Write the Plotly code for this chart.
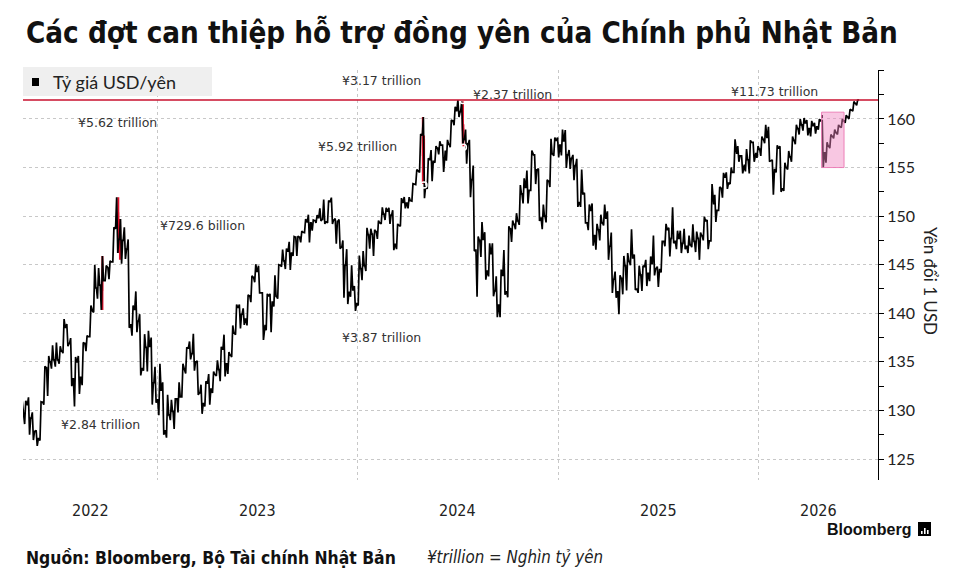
import plotly.graph_objects as go
import pandas as pd

# ---------------- DATA (weekly USD/JPY) ----------------
first_open = 128.6
high = [
    # 2022 (from late April)
    131.25, 131.0, 131.35, 129.8, 127.95, 130.9, 134.55, 135.6, 136.7, 137.0, 136.6, 139.4,
    138.9, 137.45, 135.5, 135.6, 137.0, 137.7, 140.8, 144.99, 144.65, 145.9, 144.9, 145.4,
    148.85, 151.95, 149.7, 148.85, 147.6, 140.8, 142.25, 139.9, 137.85, 138.2, 137.5, 134.5,
    # 2023
    134.8, 132.9, 131.6, 131.1, 131.2, 132.9, 134.8, 136.5, 137.1, 137.9, 135.1, 132.65,
    133.0, 133.75, 134.0, 135.15, 136.55, 137.8, 136.0, 138.75, 140.9, 140.9, 140.5, 141.9,
    143.85, 145.05, 144.9, 142.1, 142.0, 142.0, 143.9, 145.0, 146.55, 146.65, 147.35, 147.9,
    147.95, 148.45, 149.7, 150.15, 149.6, 150.1, 150.8, 151.7, 151.6, 151.9, 149.75, 149.65,
    147.5, 146.6, 144.95, 142.8,
    # 2024
    145.95, 146.4, 148.8, 148.7, 148.6, 149.55, 150.9, 150.85, 150.85, 150.6, 149.2, 151.85,
    151.97, 151.95, 153.35, 154.8, 158.45, 160.2, 155.95, 156.8, 157.2, 157.7, 157.3, 157.85,
    159.9, 161.25, 161.95, 161.8, 158.9, 157.85, 155.2, 147.9, 149.4, 148.35, 147.2, 147.2,
    143.8, 144.5, 146.5, 148.95, 149.55, 150.3, 153.2, 153.9, 154.7, 156.75, 155.9, 154.9,
    151.2, 153.75, 157.95, 158.1,
    # 2025
    158.1, 158.9, 158.85, 156.8, 156.3, 155.9, 154.8, 152.4, 151.2, 151.3, 149.2, 150.15,
    151.2, 150.5, 148.3, 144.3, 143.9, 145.9, 146.2, 148.65, 146.05, 144.9, 144.9, 145.5,
    145.85, 148.0, 144.8, 147.2, 149.2, 148.8, 150.9, 148.5, 148.5, 148.7, 148.0, 149.15,
    148.4, 148.3, 149.95, 149.6, 153.3, 152.2, 153.0, 154.45, 154.5, 155.0, 157.9, 157.2,
    156.2, 156.9, 157.8, 157.2,
    # 2026
    157.2, 158.2, 159.4, 159.2, 155.8, 157.3, 157.2, 155.5, 156.7, 158.2, 159.4, 160.0,
    160.1, 159.9, 159.8, 159.6, 160.0, 160.4, 157.6, 158.4, 158.9, 159.4, 160.0, 160.4,
    161.0, 161.8, 162.0,
]
low = [
    # 2022
    127.0, 128.6, 127.5, 126.95, 126.35, 126.9, 130.6, 131.5, 134.3, 134.5, 134.8, 135.9,
    136.6, 132.5, 130.4, 131.7, 132.6, 136.1, 137.6, 140.1, 141.5, 140.35, 143.5, 143.5,
    145.3, 146.2, 145.1, 145.6, 138.5, 137.7, 138.05, 133.6, 134.1, 134.0, 130.6, 130.8,
    # 2023
    129.5, 127.5, 127.2, 129.0, 128.1, 129.8, 131.5, 133.8, 135.25, 134.1, 131.6, 129.65,
    130.4, 130.6, 131.8, 133.55, 133.0, 133.5, 133.75, 135.5, 137.8, 138.45, 138.8, 138.75,
    141.15, 143.2, 142.1, 137.25, 138.25, 138.05, 140.7, 141.5, 144.8, 144.55, 144.45, 145.9,
    145.9, 147.3, 148.3, 147.3, 148.5, 149.3, 149.5, 149.2, 149.3, 149.2, 147.15, 146.65,
    141.6, 140.95, 141.7, 140.25,
    # 2024
    140.8, 143.4, 144.35, 146.65, 145.9, 147.65, 149.2, 149.6, 149.2, 146.5, 146.6, 148.95,
    150.8, 150.8, 151.55, 153.25, 154.5, 151.85, 152.8, 153.6, 155.5, 156.35, 154.55, 155.7,
    157.1, 159.35, 160.2, 157.45, 155.4, 151.95, 146.4, 141.7, 145.8, 143.45, 143.8, 141.75,
    139.6, 139.6, 141.9, 141.65, 147.35, 148.65, 149.1, 151.3, 151.3, 152.7, 153.3, 149.5,
    148.65, 149.35, 153.0, 156.2,
    # 2025
    156.05, 156.25, 154.95, 154.85, 153.7, 150.95, 150.95, 149.3, 148.55, 146.95, 146.55, 147.5,
    149.05, 145.5, 142.1, 141.6, 139.9, 141.95, 142.35, 144.95, 142.4, 142.1, 142.3, 142.8,
    143.3, 143.9, 142.7, 144.2, 146.9, 145.85, 147.2, 146.6, 146.2, 146.6, 146.2, 146.8,
    146.3, 145.5, 147.5, 146.6, 149.0, 149.4, 150.9, 151.9, 152.8, 153.3, 154.6, 155.6,
    154.4, 154.6, 154.4, 155.6,
    # 2026
    156.0, 156.2, 157.5, 155.6, 152.2, 154.5, 152.5, 152.6, 154.8, 155.6, 157.4, 158.4,
    158.8, 158.3, 158.2, 158.5, 158.9, 155.0, 155.5, 157.0, 158.0, 158.4, 159.1, 159.6,
    160.0, 160.8, 161.4,
]
close = [
    # 2022
    129.9, 130.55, 129.2, 127.85, 127.1, 130.85, 134.4, 135.0, 135.2, 135.2, 136.1, 138.55,
    136.9, 133.25, 135.0, 133.4, 136.9, 137.6, 140.2, 142.6, 142.9, 143.35, 144.7, 145.3,
    148.7, 147.6, 147.5, 146.6, 138.8, 140.4, 139.2, 134.3, 136.5, 136.6, 132.85, 131.1,
    # 2023
    132.1, 127.9, 129.55, 129.9, 131.2, 131.4, 134.15, 136.4, 135.85, 135.0, 131.8, 130.7,
    132.8, 132.2, 133.7, 134.2, 136.3, 134.8, 135.7, 137.95, 140.6, 139.9, 139.4, 141.8,
    143.7, 144.3, 142.1, 138.8, 141.8, 141.15, 141.75, 144.95, 145.4, 146.4, 146.2, 147.85,
    147.85, 148.35, 149.35, 149.3, 149.55, 149.85, 149.65, 149.4, 151.5, 149.6, 149.45, 146.8,
    144.95, 142.15, 142.4, 141.0,
    # 2024
    144.6, 144.9, 148.1, 148.15, 148.4, 149.3, 150.2, 150.5, 150.1, 147.1, 149.05, 151.4,
    151.35, 151.6, 153.3, 154.65, 158.3, 153.05, 155.8, 155.65, 157.0, 157.3, 156.75, 157.4,
    159.8, 160.85, 160.75, 157.9, 157.45, 153.75, 146.5, 147.5, 147.6, 144.35, 146.15, 142.3,
    140.85, 143.9, 142.2, 148.7, 149.15, 149.5, 152.3, 152.95, 152.65, 156.3, 154.75, 149.8,
    150.0, 153.6, 156.4, 157.8,
    # 2025
    157.3, 157.75, 156.3, 155.95, 155.2, 151.4, 152.3, 149.3, 150.6, 148.0, 148.6, 149.3,
    149.8, 146.9, 143.5, 142.2, 143.6, 144.9, 145.35, 145.7, 142.5, 143.95, 144.8, 144.1,
    145.1, 144.6, 144.5, 147.4, 148.6, 147.7, 147.4, 147.7, 147.2, 146.9, 147.05, 147.4,
    147.7, 148.0, 149.5, 147.45, 151.2, 150.6, 152.85, 154.0, 153.4, 154.5, 156.4, 156.2,
    155.3, 155.8, 157.6, 156.5,
    # 2026
    156.9, 157.9, 158.1, 155.7, 154.8, 157.0, 152.8, 155.0, 156.1, 157.8, 159.0, 159.4,
    159.6, 159.0, 159.3, 159.2, 159.8, 156.5, 157.2, 158.2, 158.6, 159.2, 159.8, 160.2,
    160.9, 161.6, 161.9,
]
week_start = "2022-04-27"

# intervention days (red bars)
int_dates = ["2022-09-22", "2022-10-21", "2022-10-24", "2024-04-29", "2024-05-01", "2024-07-11", "2024-07-12"]
int_open = [144.4, 150.3, 147.6, 158.2, 157.8, 161.7, 159.0]
int_high = [145.9, 151.95, 149.7, 160.2, 158.3, 161.8, 159.45]
int_low = [140.35, 146.2, 145.5, 153.3, 154.2, 157.4, 157.2]
int_close = [142.4, 147.6, 148.9, 156.3, 155.4, 158.9, 157.9]

mark_dates = ["2024-07-11", "2024-07-12", "2024-05-01", "2026-04-29"]
mark_vals = [161.9, 157.1, 153.2, 160.3]

labels = ["¥5.62 trillion", "¥729.6 billion", "¥2.84 trillion", "¥3.17 trillion",
          "¥2.37 trillion", "¥5.92 trillion", "¥3.87 trillion", "¥11.73 trillion"]
label_x = ["2022-10-19", "2023-01-01", "2022-09-18", "2024-02-13",
           "2024-10-10", "2024-01-01", "2024-02-13", "2026-01-31"]
label_y = [159.6, 149.0, 128.6, 164.0, 162.5, 157.2, 137.5, 162.8]
label_anchor = ["center", "left", "center", "center", "center", "center", "center", "center"]

record_level = 161.95
box_x = ["2026-04-27", "2026-06-07"]
box_y = [155.0, 160.7]

years = ["2022", "2023", "2024", "2025", "2026"]
y_ticks = [125, 130, 135, 140, 145, 150, 155, 160, 165]
x_range = ["2022-04-30", "2026-08-08"]
y_range = [122.84, 165.04]

COND = "DejaVu Sans Condensed, Roboto Condensed, Liberation Sans Narrow, Arial Narrow, Roboto, sans-serif"

# ---------------- BUILD ----------------
assert len(high) == len(low) == len(close)
dates = pd.date_range(week_start, periods=len(close), freq="7D")
opens = [first_open] + close[:-1]
hi = [max(h, o, c) for h, o, c in zip(high, opens, close)]
lo = [min(l, o, c) for l, o, c in zip(low, opens, close)]

# path through each week's open -> extreme -> extreme -> close
path_x, path_y = [], []
for d, o, h, l, c in zip(dates, opens, hi, lo, close):
    first, second = (l, h) if c >= o else (h, l)
    for off, v in zip((-3, -1, 1, 3), (o, first, second, c)):
        path_x.append(d + pd.Timedelta(days=off))
        path_y.append(v)

W, H = 976, 577
L, R, T, B = 23, 98, 70, 97
pw, ph = W - L - R, H - T - B

def px(x):
    return (x - L) / pw

def py(y):
    return (H - B - y) / ph

fig = go.Figure()
fig.add_trace(go.Scatter(x=path_x, y=path_y, mode="lines",
                         line=dict(color="black", width=1.7), showlegend=False, hoverinfo="skip"))
fig.add_trace(go.Candlestick(
    x=pd.to_datetime(int_dates), open=int_open, high=int_high, low=int_low, close=int_close,
    increasing=dict(line=dict(color="#e3102b", width=2), fillcolor="#e3102b"),
    decreasing=dict(line=dict(color="#e3102b", width=2), fillcolor="#e3102b"),
    whiskerwidth=0, showlegend=False, hoverinfo="skip"))
fig.add_trace(go.Scatter(
    x=pd.to_datetime(mark_dates), y=mark_vals, mode="markers",
    marker=dict(symbol="circle-open", size=6, color="white", line=dict(width=1.5, color="white")),
    showlegend=False, hoverinfo="skip"))

shapes = []
shapes.append(dict(type="line", xref="paper", x0=0, x1=1, yref="y", y0=record_level, y1=record_level,
                   line=dict(color="#c8102e", width=1.5), layer="above"))
shapes.append(dict(type="rect", xref="x", x0=box_x[0], x1=box_x[1], yref="y", y0=box_y[0], y1=box_y[1],
                   fillcolor="rgba(240,130,190,0.45)", line=dict(color="rgba(235,120,180,0.9)", width=1),
                   layer="above"))
# legend box
shapes.append(dict(type="rect", xref="paper", yref="paper", x0=px(23), x1=px(212), y0=py(96), y1=py(67),
                   fillcolor="#efefef", line=dict(width=0), layer="above"))
shapes.append(dict(type="rect", xref="paper", yref="paper", x0=px(32), x1=px(39), y0=py(86), y1=py(78),
                   fillcolor="black", line=dict(width=0), layer="above"))
# bloomberg icon
shapes.append(dict(type="rect", xref="paper", yref="paper", x0=px(918), x1=px(931), y0=py(536), y1=py(522),
                   fillcolor="black", line=dict(width=0), layer="above"))
for bx0, by in [(921, 531), (924, 528), (927, 530)]:
    shapes.append(dict(type="rect", xref="paper", yref="paper", x0=px(bx0), x1=px(bx0 + 1.6),
                       y0=py(534), y1=py(by), fillcolor="white", line=dict(width=0), layer="above"))

annotations = []
for t, xx, yy, an in zip(labels, label_x, label_y, label_anchor):
    annotations.append(dict(text=t, x=xx, y=yy, xref="x", yref="y", showarrow=False,
                            xanchor=an, yanchor="middle",
                            font=dict(family="DejaVu Sans", size=12.5, color="#333333")))

# year labels centred on the visible part of each year
xr0, xr1 = pd.Timestamp(x_range[0]), pd.Timestamp(x_range[1])
for yr in years:
    a = max(pd.Timestamp(f"{yr}-01-01"), xr0)
    b = min(pd.Timestamp(f"{int(yr)+1}-01-01"), xr1)
    mid = a + (b - a) / 2
    annotations.append(dict(text=yr, x=mid, y=py(510), xref="x", yref="paper", showarrow=False,
                            xanchor="center", yanchor="middle",
                            font=dict(family=COND, size=16, color="#222222")))

annotations += [
    dict(text="<b>Các đợt can thiệp hỗ trợ đồng yên của Chính phủ Nhật Bản</b>", x=px(24), y=py(33),
         xref="paper", yref="paper", showarrow=False, xanchor="left", yanchor="middle",
         font=dict(family=COND, size=29.3, color="#111111")),
    dict(text="Tỷ giá USD/yên", x=px(51), y=py(82), xref="paper", yref="paper", showarrow=False,
         xanchor="left", yanchor="middle", font=dict(family="Lato", size=18, color="#222222")),
    dict(text="Yên đổi 1 USD", x=px(931), y=py(281), xref="paper", yref="paper", showarrow=False,
         textangle=90, xanchor="center", yanchor="middle",
         font=dict(family="Lato", size=17, color="#222222")),
    dict(text="<b>Bloomberg</b>", x=px(913), y=py(529), xref="paper", yref="paper", showarrow=False,
         xanchor="right", yanchor="middle",
         font=dict(family="Liberation Sans", size=16, color="#111111")),
    dict(text="<b>Nguồn: Bloomberg, Bộ Tài chính Nhật Bản</b>", x=px(24), y=py(558), xref="paper",
         yref="paper", showarrow=False, xanchor="left", yanchor="middle",
         font=dict(family=COND, size=17.4, color="#111111")),
    dict(text="<i>¥trillion = Nghìn tỷ yên</i>", x=px(425), y=py(557), xref="paper", yref="paper",
         showarrow=False, xanchor="left", yanchor="middle",
         font=dict(family=COND, size=16.8, color="#222222")),
]

fig.update_layout(
    width=W, height=H, margin=dict(l=L, r=R, t=T, b=B),
    paper_bgcolor="white", plot_bgcolor="white",
    shapes=shapes, annotations=annotations, hovermode=False,
    xaxis=dict(type="date", range=x_range, rangeslider=dict(visible=False),
               tickvals=[f"{y}-01-01" for y in years[1:]], showticklabels=False, ticks="",
               showgrid=True, gridcolor="#c8c8c8", griddash="dot", gridwidth=1,
               showline=False, zeroline=False),
    yaxis=dict(side="right", range=y_range, tickvals=y_ticks,
               ticktext=[str(v) if v != 165 else "" for v in y_ticks],
               ticks="outside", ticklen=5, tickwidth=1, tickcolor="black",
               showline=True, linecolor="black", linewidth=1,
               showgrid=True, gridcolor="#c8c8c8", griddash="dot", gridwidth=1, zeroline=False,
               minor=dict(dtick=2.5, tick0=0, ticks="outside", ticklen=5, tickcolor="black", showgrid=False),
               tickfont=dict(family="Lato", size=16, color="#222222")),
)

fig.write_html("out.html")
